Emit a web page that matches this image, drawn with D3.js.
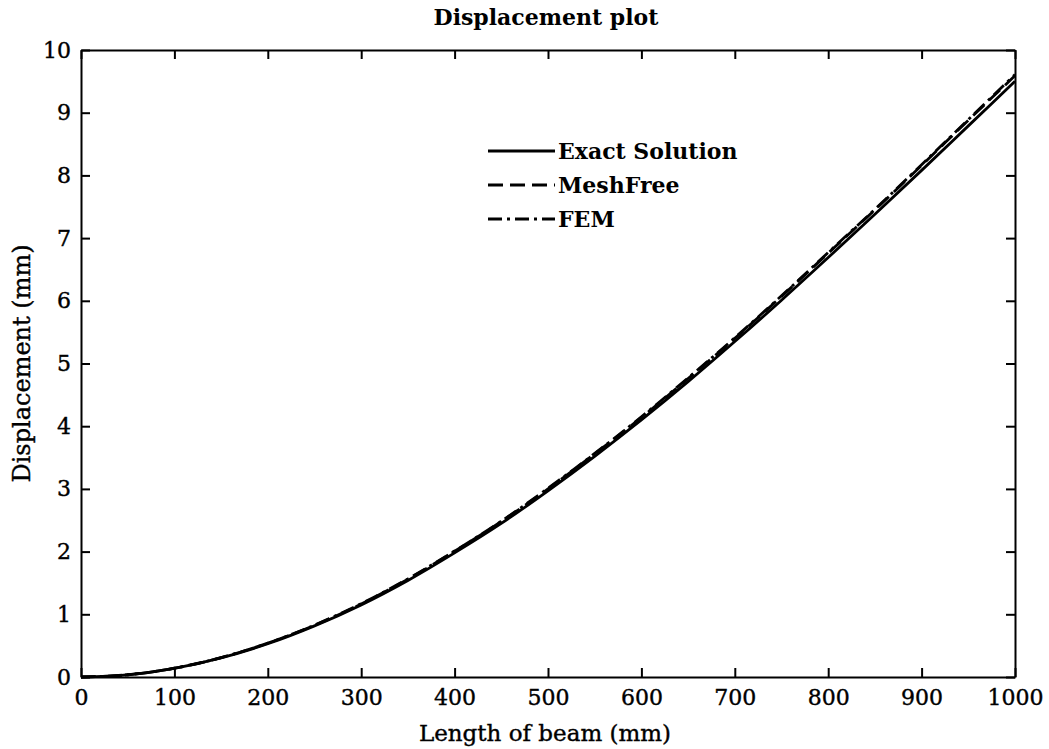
<!DOCTYPE html>
<html>
<head>
<meta charset="utf-8">
<script src="https://cdn.jsdelivr.net/npm/d3@7"></script>
<style>
  html, body { margin: 0; padding: 0; background: #fff; }
  svg { display: block; }
  text { font-family: "DejaVu Serif", serif; fill: #000; }
</style>
</head>
<body>
<svg id="chart" width="1049" height="749"></svg>
<script>
// Beam positions along the length (mm)
const positions = [0, 50, 100, 150, 200, 250, 300, 350, 400, 450, 500,
                   550, 600, 650, 700, 750, 800, 850, 900, 950, 1000];

// Displacement (mm) for each solution method
const exactSolution = [0, 0.035, 0.138, 0.305, 0.53, 0.815, 1.15, 1.54, 1.98, 2.45, 2.97,
                       3.52, 4.10, 4.71, 5.35, 6.01, 6.69, 7.38, 8.08, 8.79, 9.50];
const meshFree      = [0, 0.036, 0.140, 0.309, 0.54, 0.825, 1.165, 1.56, 2.005, 2.48, 3.00,
                       3.56, 4.14, 4.76, 5.40, 6.07, 6.76, 7.45, 8.16, 8.88, 9.59];
const femSolution   = [0, 0.036, 0.141, 0.310, 0.54, 0.828, 1.17, 1.565, 2.01, 2.485, 3.01,
                       3.565, 4.15, 4.77, 5.41, 6.08, 6.77, 7.46, 8.17, 8.89, 9.61];

const xTicks = [0, 100, 200, 300, 400, 500, 600, 700, 800, 900, 1000];
const yTicks = [0, 1, 2, 3, 4, 5, 6, 7, 8, 9, 10];

const seriesNames = ["Exact Solution", "MeshFree", "FEM"];
const seriesDash  = ["none", "15,7", "14,5,3,5"];

const svg = d3.select("#chart");
const margin = { left: 81, right: 1049 - 1015, top: 50, bottom: 749 - 677 };
const W = 1049, H = 749;

const x = d3.scaleLinear().domain([0, 1000]).range([margin.left, W - margin.right]);
const y = d3.scaleLinear().domain([0, 10]).range([H - margin.bottom, margin.top]);

// Data curves
const allSeries = [exactSolution, meshFree, femSolution];
const line = d3.line()
  .x((d, i) => x(positions[i]))
  .y(d => y(d))
  .curve(d3.curveMonotoneX);

const curves = svg.append("g");
allSeries.forEach((vals, k) => {
  curves.append("path")
    .datum(vals)
    .attr("d", line)
    .attr("fill", "none")
    .attr("stroke", "#000")
    .attr("stroke-width", 2.8)
    .attr("stroke-dasharray", seriesDash[k]);
});

// Axes with inward ticks on all four sides
const tickLen = 9;
const axisBottom = d3.axisBottom(x).tickValues(xTicks).tickFormat(d3.format("d"))
  .tickSizeInner(-tickLen).tickSizeOuter(0).tickPadding(12);
const axisTop = d3.axisTop(x).tickValues(xTicks).tickFormat("")
  .tickSizeInner(-tickLen).tickSizeOuter(0);
const axisLeft = d3.axisLeft(y).tickValues(yTicks).tickFormat(d3.format("d"))
  .tickSizeInner(-tickLen).tickSizeOuter(0).tickPadding(10);
const axisRight = d3.axisRight(y).tickValues(yTicks).tickFormat("")
  .tickSizeInner(-tickLen).tickSizeOuter(0);

function styleAxis(g) {
  g.selectAll("path.domain").attr("stroke", "#000").attr("stroke-width", 2);
  g.selectAll(".tick line").attr("stroke", "#000").attr("stroke-width", 2);
  g.selectAll(".tick text").style("font-family", "DejaVu Serif, serif")
    .style("font-size", "22px").attr("fill", "#000")
    .attr("stroke", "#000").attr("stroke-width", 0.4);
}

svg.append("g").attr("transform", `translate(0,${y(0)})`).call(axisBottom).call(styleAxis);
svg.append("g").attr("transform", `translate(0,${y(10)})`).call(axisTop).call(styleAxis);
svg.append("g").attr("transform", `translate(${x(0)},0)`).call(axisLeft).call(styleAxis);
svg.append("g").attr("transform", `translate(${x(1000)},0)`).call(axisRight).call(styleAxis);

// Title and axis labels
svg.append("text")
  .attr("x", 546).attr("y", 25)
  .attr("text-anchor", "middle")
  .style("font-size", "22px").style("font-weight", "bold")
  .text("Displacement plot");

svg.append("text")
  .attr("x", 545).attr("y", 741)
  .attr("text-anchor", "middle")
  .style("font-size", "23px")
  .attr("stroke", "#000").attr("stroke-width", 0.4)
  .text("Length of beam (mm)");

svg.append("text")
  .attr("transform", `translate(30,${(y(0) + y(10)) / 2}) rotate(-90)`)
  .attr("text-anchor", "middle")
  .style("font-size", "24px")
  .attr("stroke", "#000").attr("stroke-width", 0.4)
  .text("Displacement (mm)");

// Legend
const legendRows = [151, 185, 219];
const legend = svg.append("g");
seriesNames.forEach((name, k) => {
  legend.append("line")
    .attr("x1", 488).attr("x2", 555)
    .attr("y1", legendRows[k]).attr("y2", legendRows[k])
    .attr("stroke", "#000").attr("stroke-width", 2.8)
    .attr("stroke-dasharray", seriesDash[k]);
  legend.append("text")
    .attr("x", 558).attr("y", legendRows[k] + 8)
    .style("font-size", "22px").style("font-weight", "bold")
    .text(name);
});
</script>
</body>
</html>
